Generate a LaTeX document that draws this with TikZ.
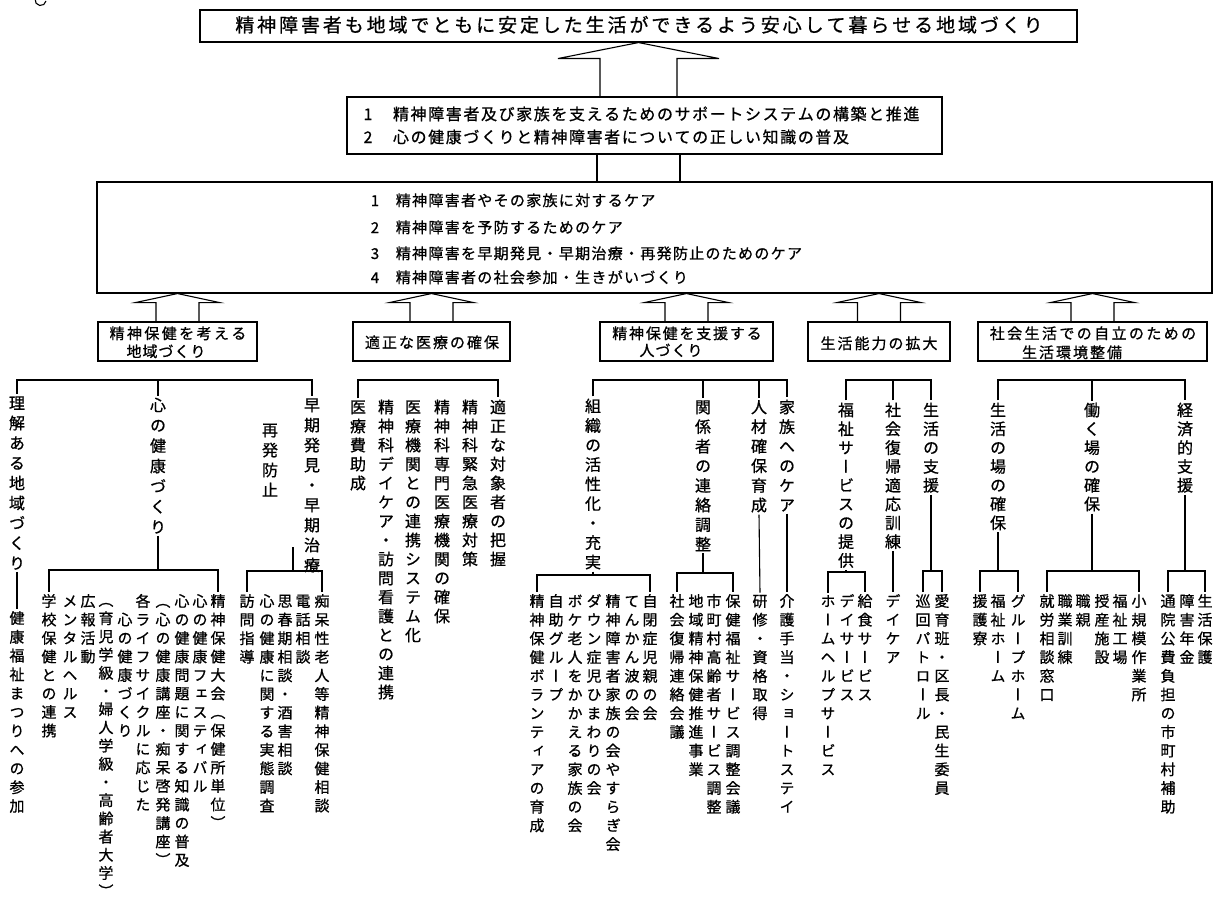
\documentclass[tikz,border=0pt]{standalone}
\usepackage{fontspec}
\usetikzlibrary{calc}
\newfontfamily\jp{Noto Sans CJK JP}[FakeBold=0.8]
\newfontfamily\jpv{Noto Sans CJK JP}[RawFeature=+vert,FakeBold=0.8]
\newdimen\cellw
\def\cjkend{\cjkend}
\def\cjkloop#1{\ifx\cjkend#1\else\hbox to\cellw{\hss#1\hss}\expandafter\cjkloop\fi}
\newcommand\hsp[3][15]{\hbox{\jp\fontsize{#1}{#1}\selectfont\cellw=#2pt\relax\cjkloop#3\cjkend}}
\newcommand\vsp[3][15]{\vtop{\jpv\fontsize{#1}{#2}\selectfont\cellw=#1pt\relax\baselineskip=#2pt\relax\lineskiplimit=-\maxdimen\cjkloop#3\cjkend}}
\tikzset{
 line/.style={line width=1.1pt, line join=miter},
 box/.style={draw, line width=1.1pt, inner sep=0pt},
 vcol/.style={anchor=base, inner sep=2pt, yshift=-5.7pt},
 vcolL/.style={anchor=base, inner sep=2pt, yshift=-6.1pt},
 htxt/.style={anchor=base, inner sep=0pt, yshift=-6pt},
 htxtw/.style={anchor=base west, inner sep=0pt, yshift=-6pt},
}
\newcommand\vcol[5]{\node[vcol] (#1) at (#2,#3) {\vsp{#4}{#5}};}
\newcommand\vcolL[5]{\node[vcolL] (#1) at (#2,#3) {\vsp[16]{#4}{#5}};}
\newcommand\brk[3]{\draw[line] (#1.north) -- (#1.north |- #3) -- (#2.north |- #3) -- (#2.north);}
\newcommand\drop[2]{\draw[line] (#1) -- (#1 |- #2);}
\newcommand\harrow[5]{\draw[line] ($(#1)+(-#3,0)$) -- ($(#2)+(-#3,#5)$) -- ($(#2)+(-#4,#5)$) -- (#2) -- ($(#2)+(#4,#5)$) -- ($(#2)+(#3,#5)$) -- ($(#1)+(#3,0)$);}
\begin{document}
\begin{tikzpicture}[x=1pt,y=-1pt]
\useasboundingbox (0,0) rectangle (1215,899);
\draw[line] (46,1) arc[start angle=10, end angle=230, radius=5.5];
% boxes
\node[box, minimum width=877pt, minimum height=32pt] (top) at (638.5,26) {};
\node[box, minimum width=595pt, minimum height=57pt] (box2) at (644.5,125.5) {};
\node[box, minimum width=1115pt, minimum height=111pt] (box3) at (654.5,237.5) {};
\node[box, minimum width=159pt, minimum height=39pt] (bA) at (177.5,341.5) {};
\node[box, minimum width=157pt, minimum height=39pt] (bB) at (431.5,341.5) {};
\node[box, minimum width=173pt, minimum height=39pt] (bC) at (686.5,341.5) {};
\node[box, minimum width=142pt, minimum height=39pt] (bD) at (879,341.5) {};
\node[box, minimum width=229pt, minimum height=39pt] (bE) at (1092.5,341.5) {};
% box texts
\node[htxt] (t0) at (639,26) {\hsp[19]{21.9}{精神障害者も地域でともに安定した生活ができるよう安心して暮らせる地域づくり}};
\node[htxt] (n21) at (368,114) {\hsp[16]{10}{1}};
\node[htxtw] (t21) at (392,114) {\hsp[16]{17.6}{精神障害者及び家族を支えるためのサポートシステムの構築と推進}};
\node[htxt] (n22) at (368,137) {\hsp[16]{10}{2}};
\node[htxtw] (t22) at (392,137) {\hsp[16]{17.6}{心の健康づくりと精神障害者についての正しい知識の普及}};
\node[htxt] (n31) at (375,200) {\hsp{10}{1}};
\node[htxtw] (t31) at (395,200) {\hsp{16.3}{精神障害者やその家族に対するケア}};
\node[htxt] (n32) at (375,227) {\hsp{10}{2}};
\node[htxtw] (t32) at (395,227) {\hsp{16.3}{精神障害を予防するためのケア}};
\node[htxt] (n33) at (375,253) {\hsp{10}{3}};
\node[htxtw] (t33) at (395,253) {\hsp{16.3}{精神障害を早期発見・早期治療・再発防止のためのケア}};
\node[htxt] (n34) at (375,277) {\hsp{10}{4}};
\node[htxtw] (t34) at (395,277) {\hsp{16.3}{精神障害者の社会参加・生きがいづくり}};
\node[htxt] (tA1) at (178,333) {\hsp{17.4}{精神保健を考える}};
\node[htxt] (tA2) at (166,351) {\hsp{16}{地域づくり}};
\node[htxt] (tB1) at (432,342) {\hsp{17}{適正な医療の確保}};
\node[htxt] (tC1) at (687,333) {\hsp{16.8}{精神保健を支援する}};
\node[htxt] (tC2) at (671,350) {\hsp{16}{人づくり}};
\node[htxt] (tD1) at (879,343) {\hsp{17}{生活能力の拡大}};
\node[htxt] (tE1) at (1093,333) {\hsp{17.4}{社会生活での自立のための}};
\node[htxt] (tE2) at (1072,352) {\hsp{17}{生活環境整備}};
% arrows
\harrow{top.south |- box2.north}{top.south}{38.5}{80.5}{16}
\draw[line] ($(top.south |- box2.south)+(-41.5,0)$) -- ($(top.south |- box3.north)+(-41.5,0)$);
\draw[line] ($(top.south |- box2.south)+(41.5,0)$) -- ($(top.south |- box3.north)+(41.5,0)$);
\harrow{bA.north}{bA.north |- box3.south}{21.5}{42}{9}
\harrow{bB.north}{bB.north |- box3.south}{21.5}{42}{9}
\harrow{bC.north}{bC.north |- box3.south}{21.5}{42}{9}
\harrow{bD.north}{bD.north |- box3.south}{21.5}{42}{9}
\harrow{bE.north}{bE.north |- box3.south}{21.5}{42}{9}
% bar coordinates
\coordinate (barA) at (0,380);
\coordinate (barB) at (0,380);
\coordinate (barC) at (0,380);
\coordinate (barD) at (0,380);
\coordinate (barE) at (0,380);
\coordinate (barA2) at (0,570);
\coordinate (barA3) at (0,571);
\coordinate (barC1) at (0,575);
\coordinate (barC2) at (0,573);
\coordinate (barD1) at (0,572);
\coordinate (barD3) at (0,571);
\coordinate (barE1) at (0,571);
\coordinate (barE2) at (0,571);
\coordinate (barE3) at (0,571);
\coordinate (a3j) at (293,547);
% group A
\vcolL{a1}{17}{403}{20}{理解ある地域づくり}
\vcol{a1b}{17}{618}{18.8}{健康福祉まつりへの参加}
\vcolL{a2}{158}{405}{20.3}{心の健康づくり}
\vcolL{a3}{312}{405}{20}{早期発見・早期治療}
\vcolL{a3r}{270}{430}{20}{再発防止}
\brk{a1}{a3}{barA}
\drop{a2.north}{barA}
\draw[line] (a1.south) -- (a1b.north);
\vcol{a2s1}{218}{601}{18.5}{精神保健大会（保健所単位）}
\vcol{a2s2}{200}{601}{18.5}{心の健康フェスティバル}
\vcol{a2s3}{182}{601}{18.5}{心の健康問題に関する知識の普及}
\vcol{a2s4}{163}{601}{18.5}{（心の健康講座・痴呆啓発講座）}
\vcol{a2s5}{143}{601}{18.5}{各ライフサイクルに応じた}
\vcol{a2s6}{125}{619.5}{18.5}{心の健康づくり}
\vcol{a2s7}{106}{600}{18.2}{（育児学級・婦人学級・高齢者大学）}
\vcol{a2s8}{88}{601}{18.5}{広報活動}
\vcol{a2s9}{70}{601}{18.5}{メンタルヘルス}
\vcol{a2s10}{49}{601}{18.5}{学校保健との連携}
\brk{a2s10}{a2s1}{barA2}
\drop{a2.south}{barA2}
\vcol{a3s1}{322}{601}{18.6}{痴呆性老人等精神保健相談}
\vcol{a3s2}{303}{601}{18.6}{電話相談}
\vcol{a3s3}{285}{601}{18.6}{思春期相談・酒害相談}
\vcol{a3s4}{267}{601}{18.6}{心の健康に関する実態調査}
\vcol{a3s5}{247}{601}{18.6}{訪問指導}
\brk{a3s5}{a3s1}{barA3}
\drop{a3j}{barA3}
% group B
\vcolL{b1}{498}{407}{19}{適正な対象者の把握}
\vcolL{b2}{470}{407}{19}{精神科緊急医療対策}
\vcolL{b3}{442}{407}{19}{精神科専門医療機関の確保}
\vcolL{b4}{413}{407}{19}{医療機関との連携システム化}
\vcolL{b5}{386}{407}{19}{精神科デイケア・訪問看護との連携}
\vcolL{b6}{358}{407}{19}{医療費助成}
\brk{b6}{b1}{barB}
% group C
\vcolL{c1}{593}{406}{19.5}{組織の活性化・充実}
\vcolL{c2}{703}{407}{19.6}{関係者の連絡調整}
\vcolL{c3}{759}{407}{19.6}{人材確保育成}
\vcolL{c4}{787}{407}{19.6}{家族へのケア}
\brk{c1}{c4}{barC}
\drop{c2.north}{barC}
\drop{c3.north}{barC}
\vcol{c1s1}{650}{601}{18.7}{自閉症児親の会}
\vcol{c1s2}{632}{601}{18.7}{てんかん波の会}
\vcol{c1s3}{613}{601}{18.7}{精神障害者家族の会やすらぎ会}
\vcol{c1s4}{594}{601}{18.7}{ダウン症児ひまわりの会}
\vcol{c1s5}{575}{601}{18.7}{ボケ老人をかかえる家族の会}
\vcol{c1s6}{556}{601}{18.7}{自助グループ}
\vcol{c1s7}{537}{601}{18.7}{精神保健ボランティアの育成}
\brk{c1s7}{c1s1}{barC1}
\drop{c1.south}{barC1}
\vcol{c2s1}{733}{601}{18.7}{保健福祉サービス調整会議}
\vcol{c2s2}{714}{601}{18.7}{市町村高齢者サービス調整}
\vcol{c2s3}{696}{601}{18.7}{地域精神保健推進事業}
\vcol{c2s4}{677}{601}{18.7}{社会復帰連絡会議}
\brk{c2s4}{c2s1}{barC2}
\drop{c2.south}{barC2}
\vcol{c3b}{760}{601}{18.7}{研修・資格取得}
\draw[line] (c3.south) -- (c3b.north);
\vcol{c4b}{787}{601}{18.7}{介護手当・ショートステイ}
\draw[line] (c4.south) -- (c4b.north);
% group D
\vcolL{d1}{846}{410}{18.8}{福祉サービスの提供}
\vcolL{d2}{893}{410}{18.8}{社会復帰適応訓練}
\vcolL{d3}{931}{410}{18.8}{生活の支援}
\brk{d1}{d3}{barD}
\drop{d2.north}{barD}
\vcol{d1s1}{865}{601}{18.7}{給食サービス}
\vcol{d1s2}{847}{601}{18.7}{デイサービス}
\vcol{d1s3}{828}{601}{18.7}{ホームヘルプサービス}
\brk{d1s3}{d1s1}{barD1}
\drop{d1.south}{barD1}
\vcol{d2b}{893}{601}{18.7}{デイケア}
\draw[line] (d2.south) -- (d2b.north);
\vcol{d3s1}{942}{601}{18.7}{愛育班・区長・民生委員}
\vcol{d3s2}{923}{601}{18.7}{巡回パトロール}
\brk{d3s2}{d3s1}{barD3}
\drop{d3.south}{barD3}
% group E
\vcolL{e1}{998}{410}{18.8}{生活の場の確保}
\vcolL{e2}{1092}{410}{18.8}{働く場の確保}
\vcolL{e3}{1185}{410}{18.8}{経済的支援}
\brk{e1}{e3}{barE}
\drop{e2.north}{barE}
\vcol{e1s1}{1018}{601}{18.7}{グループホーム}
\vcol{e1s2}{998}{601}{18.7}{福祉ホーム}
\vcol{e1s3}{980}{601}{18.7}{援護寮}
\brk{e1s3}{e1s1}{barE1}
\drop{e1.south}{barE1}
\vcol{e2s1}{1139}{601}{18.7}{小規模作業所}
\vcol{e2s2}{1120}{601}{18.7}{福祉工場}
\vcol{e2s3}{1102}{601}{18.7}{授産施設}
\vcol{e2s4}{1083}{601}{18.7}{職親}
\vcol{e2s5}{1065}{601}{18.7}{職業訓練}
\vcol{e2s6}{1047}{601}{18.7}{就労相談窓口}
\brk{e2s6}{e2s1}{barE2}
\drop{e2.south}{barE2}
\vcol{e3s1}{1205}{601}{18.7}{生活保護}
\vcol{e3s2}{1187}{601}{18.7}{障害年金}
\vcol{e3s3}{1168}{601}{18.7}{通院公費負担の市町村補助}
\brk{e3s3}{e3s1}{barE3}
\drop{e3.south}{barE3}
\end{tikzpicture}
\end{document}
